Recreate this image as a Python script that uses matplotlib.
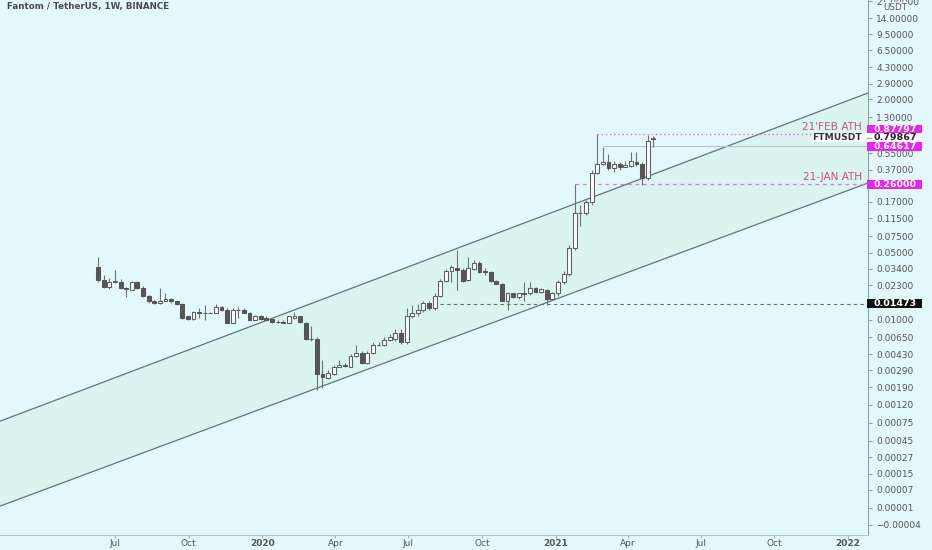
import numpy as np
import pandas as pd
import matplotlib
matplotlib.use("Agg")
import matplotlib.pyplot as plt
import matplotlib.dates as mdates
from matplotlib.patches import Rectangle
from matplotlib.transforms import IdentityTransform
from matplotlib.ticker import NullLocator

# ---------------- data ----------------
title = "Fantom / TetherUS, 1W, BINANCE"
first_week = "2019-06-10"

opens = [0.0360, 0.0263, 0.0222, 0.0250, 0.0250, 0.0217, 0.0207, 0.0250, 0.0217, 0.0179,
         0.0158, 0.0151, 0.0158, 0.0166, 0.0155, 0.0147, 0.0108, 0.0102, 0.0121, 0.0116,
         0.0117, 0.0118, 0.0137, 0.0127, 0.0093, 0.0127, 0.0127, 0.0118, 0.0100, 0.0110,
         0.0105, 0.0102, 0.00953, 0.0095, 0.0093, 0.0105, 0.0108, 0.0093, 0.0063, 0.0063,
         0.00266, 0.00241, 0.00266, 0.00317, 0.00333, 0.00317, 0.00416, 0.00447, 0.0035, 0.00447,
         0.00544, 0.00544, 0.00615, 0.0063, 0.00729, 0.00586, 0.0110, 0.0116, 0.0127, 0.0151,
         0.0131, 0.0179, 0.0257, 0.0327, 0.0351, 0.0335, 0.0263, 0.0343, 0.0396, 0.0327,
         0.0319, 0.0257, 0.0239, 0.0158, 0.0188, 0.0174, 0.0188, 0.0188, 0.0217, 0.0197,
         0.0207, 0.0166, 0.0188, 0.0250, 0.0304, 0.0568, 0.129, 0.132, 0.168, 0.344,
         0.428, 0.449, 0.389, 0.428, 0.398, 0.408, 0.449, 0.428, 0.305, 0.775]
highs = [0.0457, 0.0297, 0.0276, 0.0335, 0.0269, 0.0222, 0.0257, 0.0257, 0.0227, 0.0183,
         0.0162, 0.0217, 0.0192, 0.0170, 0.0158, 0.0151, 0.0110, 0.0124, 0.0134, 0.0144,
         0.0121, 0.0147, 0.0140, 0.0131, 0.0131, 0.0137, 0.0131, 0.0121, 0.0113, 0.0113,
         0.0108, 0.0105, 0.0098, 0.0098, 0.0110, 0.0121, 0.0110, 0.0095, 0.00864, 0.0066,
         0.00377, 0.0029, 0.0033, 0.00377, 0.0035, 0.0043, 0.00544, 0.0046, 0.0046, 0.0058,
         0.0058, 0.0065, 0.0070, 0.0080, 0.0080, 0.0131, 0.0144, 0.0147, 0.0158, 0.0155,
         0.0188, 0.0269, 0.0343, 0.0370, 0.0541, 0.0351, 0.0457, 0.0420, 0.0410, 0.0351,
         0.0327, 0.0263, 0.0245, 0.0197, 0.0192, 0.0192, 0.0250, 0.0250, 0.0222, 0.0217,
         0.0212, 0.0197, 0.0263, 0.0327, 0.0600, 0.2600, 0.160, 0.180, 0.370, 0.87797,
         0.642, 0.543, 0.460, 0.440, 0.450, 0.560, 0.570, 0.440, 0.857, 0.820]
lows = [0.0250, 0.0217, 0.0212, 0.0245, 0.0212, 0.0172, 0.0203, 0.0212, 0.0174, 0.0151,
        0.0147, 0.0147, 0.0155, 0.0151, 0.0144, 0.0102, 0.0100, 0.0100, 0.0105, 0.0098,
        0.0116, 0.0116, 0.0124, 0.0091, 0.0091, 0.0105, 0.0116, 0.0098, 0.0098, 0.0100,
        0.0098, 0.0093, 0.0093, 0.0091, 0.0091, 0.0102, 0.0093, 0.00615, 0.0060, 0.00178,
        0.00187, 0.00235, 0.0026, 0.0031, 0.0031, 0.0031, 0.0040, 0.0034, 0.0034, 0.0043,
        0.0052, 0.0052, 0.0059, 0.0060, 0.0055, 0.0055, 0.0105, 0.0108, 0.0121, 0.0127,
        0.0127, 0.0174, 0.0250, 0.0250, 0.0207, 0.0250, 0.0257, 0.0335, 0.0311, 0.0297,
        0.0250, 0.0234, 0.0155, 0.0127, 0.0170, 0.0166, 0.0158, 0.0183, 0.0192, 0.0188,
        0.0144, 0.0162, 0.0179, 0.0239, 0.0290, 0.0541, 0.0963, 0.125, 0.160, 0.330,
        0.410, 0.370, 0.350, 0.370, 0.390, 0.390, 0.400, 0.258, 0.290, 0.642]
closes = [0.0263, 0.0222, 0.0250, 0.0257, 0.0217, 0.0212, 0.0250, 0.0217, 0.0179, 0.0158,
          0.0151, 0.0158, 0.0166, 0.0155, 0.0147, 0.0105, 0.0102, 0.0121, 0.0116, 0.0118,
          0.0118, 0.0137, 0.0127, 0.0093, 0.0127, 0.0126, 0.0118, 0.0100, 0.0110, 0.0102,
          0.0100, 0.00953, 0.0095, 0.0093, 0.0108, 0.0108, 0.0095, 0.0063, 0.00625, 0.00266,
          0.00247, 0.00273, 0.00317, 0.00333, 0.00325, 0.00416, 0.00447, 0.0035, 0.00447, 0.00544,
          0.0054, 0.00615, 0.00661, 0.00729, 0.00586, 0.0108, 0.0118, 0.0127, 0.0151, 0.0131,
          0.0179, 0.0257, 0.0327, 0.0360, 0.0335, 0.0257, 0.0351, 0.0396, 0.0319, 0.0319,
          0.0257, 0.0239, 0.0158, 0.0192, 0.0174, 0.0188, 0.0187, 0.0217, 0.0197, 0.0212,
          0.0166, 0.0188, 0.0250, 0.0304, 0.0568, 0.129, 0.132, 0.168, 0.344, 0.428,
          0.449, 0.389, 0.428, 0.398, 0.418, 0.460, 0.428, 0.305, 0.743, 0.79867]

ytick_values = [21.0, 14.0, 9.5, 6.5, 4.3, 2.9, 2.0, 1.3, 0.55, 0.37, 0.17, 0.115, 0.075,
                0.05, 0.034, 0.023, 0.01, 0.0065, 0.0043, 0.0029, 0.0019, 0.0012, 0.00075,
                0.00045, 0.00027, 0.00015, 0.00007, 0.00001, -0.000027]
ytick_labels = ["21.00000", "14.00000", "9.50000", "6.50000", "4.30000", "2.90000", "2.00000",
                "1.30000", "0.55000", "0.37000", "0.17000", "0.11500", "0.07500", "0.05000",
                "0.03400", "0.02300", "0.01000", "0.00650", "0.00430", "0.00290", "0.00190",
                "0.00120", "0.00075", "0.00045", "0.00027", "0.00015", "0.00007", "0.00001",
                "\u22120.00004"]

xtick_dates = ["2019-07-01", "2019-10-01", "2020-01-01", "2020-04-01", "2020-07-01",
               "2020-10-01", "2021-01-01", "2021-04-01", "2021-07-01", "2021-10-01", "2022-01-01"]
xtick_labels = ["Jul", "Oct", "2020", "Apr", "Jul", "Oct", "2021", "Apr", "Jul", "Oct", "2022"]
x_range = ["2019-02-07 11:00", "2022-01-26 00:00"]
y_range = [-0.0000427, 21.72]

channel_dates = ["2020-02-04", "2022-01-26"]
channel_upper = [0.01211, 2.328]
channel_lower = [0.001426, 0.2683]

feb_ath = 0.87797
jan_ath = 0.26
last_price = 0.79867
marked_price = 0.64617
support_price = 0.01473
feb_ath_week = 89
jan_ath_week = 85
marked_week = 90
support_week = 61

# ---------------- style ----------------
BG = "#e3f8fc"
FILL = "#daf4ef"
LINE = "#5f767b"
TXT = "#555555"
MAG = "#ee22ee"
PINKTXT = "#c9517e"
W, H = 932, 550
AX_RIGHT = 868
AX_BOTTOM = 15

C = 0.0001
def fwd(p):
    p = np.asarray(p, dtype=float)
    with np.errstate(invalid="ignore", divide="ignore"):
        return np.log10(np.maximum(p + C, 1e-12))
def inv(u):
    return 10 ** np.asarray(u, dtype=float) - C

def dnum(seq):
    return mdates.date2num(pd.to_datetime(list(seq), format="mixed"))

fig = plt.figure(figsize=(W / 100, H / 100), dpi=100, facecolor=BG)
ax = fig.add_axes([0, AX_BOTTOM / H, AX_RIGHT / W, (H - AX_BOTTOM) / H])
ax.set_facecolor(BG)
ax.set_yscale("function", functions=(fwd, inv))

xl = dnum(x_range)
ax.set_xlim(xl[0], xl[1])
ax.set_ylim(y_range[0], y_range[1])

# channel
cx = dnum(channel_dates)
def extend(prices):
    u = fwd(prices)
    slope = (u[1] - u[0]) / (cx[1] - cx[0])
    return inv(u[0] + slope * (xl - cx[0]))
up = extend(channel_upper)
lo = extend(channel_lower)
ax.fill([xl[0], xl[1], xl[1], xl[0]], [lo[0], lo[1], up[1], up[0]],
        color=FILL, lw=0, zorder=1)
ax.plot(xl, up, color=LINE, lw=0.9, zorder=2)
ax.plot(xl, lo, color=LINE, lw=0.9, zorder=2)

# candles
dates = pd.date_range(first_week, periods=len(opens), freq="7D")
x = mdates.date2num(dates)
o = np.array(opens); h = np.array(highs); l = np.array(lows); c = np.array(closes)
ax.vlines(x, l, h, color="#727272", lw=0.8, zorder=3)
bull = c >= o
bottom = np.minimum(o, c)
height = np.abs(c - o)
ax.bar(x[bull], height[bull], bottom=bottom[bull], width=4.8, facecolor="#f6fcfd",
       edgecolor="#5e5e5e", linewidth=0.75, zorder=4)
ax.bar(x[~bull], height[~bull], bottom=bottom[~bull], width=4.8, facecolor="#565656",
       edgecolor="#565656", linewidth=0.75, zorder=4)

# horizontal levels
ax.hlines(support_price, x[support_week], xl[1], color="#6a6a6a", lw=0.8,
          linestyles=(0, (3, 3)), zorder=2)
ax.hlines(jan_ath, x[jan_ath_week], xl[1], color="#e07ad6", lw=0.9,
          linestyles=(0, (3, 3)), zorder=2)
ax.hlines(feb_ath, x[feb_ath_week], xl[1], color="#e06ad8", lw=1.0,
          linestyles=(0, (1, 2)), zorder=2)
ax.hlines(marked_price, x[marked_week], xl[1], color="#b5c4c6", lw=0.8, zorder=2)

ax.annotate("21'FEB ATH", xy=(xl[1], feb_ath), xytext=(-6, 2), textcoords="offset pixels",
            ha="right", va="bottom", fontsize=7.6, color=PINKTXT)
ax.annotate("21-JAN ATH", xy=(xl[1], jan_ath), xytext=(-6, 2), textcoords="offset pixels",
            ha="right", va="bottom", fontsize=7.6, color=PINKTXT)

# axes styling
for s in ["top", "left"]:
    ax.spines[s].set_visible(False)
ax.spines["right"].set_color("#8fa2a6")
ax.spines["bottom"].set_color("#b9c9cc")
ax.yaxis.tick_right()
ax.set_yticks(ytick_values)
ax.set_yticklabels(ytick_labels)
ax.yaxis.set_minor_locator(NullLocator())
ax.tick_params(axis="y", which="major", direction="out", length=3, width=0.8,
               color="#8fa2a6", labelsize=6.5, labelcolor=TXT, pad=3)
ax.set_xticks(dnum(xtick_dates))
ax.set_xticklabels(xtick_labels)
ax.xaxis.set_minor_locator(NullLocator())
ax.tick_params(axis="x", which="major", direction="out", length=2, width=0.8,
               color="#a0b0b3", labelsize=6.5, labelcolor=TXT, pad=1)
for lab, txt in zip(ax.get_xticklabels(), xtick_labels):
    if txt.isdigit():
        lab.set_fontweight("bold")

# boxes on the price axis
def axis_box(price, text, fc, tc, dy=0.0, left=AX_RIGHT - 1, width=55):
    _, yd = ax.transData.transform((xl[0], price))
    yd += dy
    fig.add_artist(Rectangle((left, yd - 4.3), width, 8.6, transform=IdentityTransform(),
                             facecolor=fc, edgecolor="none", clip_on=False, zorder=5))
    fig.text((AX_RIGHT + 27) / W, yd / H, text, ha="center", va="center",
             fontsize=6.8, fontweight="bold", color=tc, zorder=6)
    return yd

axis_box(feb_ath, f"{feb_ath:.5f}", MAG, "white", dy=4)
yd_last = axis_box(last_price, f"{last_price:.5f}", "white", "#222222", left=AX_RIGHT - 56, width=110)
fig.text((AX_RIGHT - 31) / W, yd_last / H, "FTMUSDT", ha="center", va="center",
         fontsize=6.6, fontweight="bold", color="#333333", zorder=6)
fig.add_artist(plt.Line2D([AX_RIGHT - 1, AX_RIGHT + 3], [yd_last, yd_last],
                          transform=IdentityTransform(), color="#8fa2a6", lw=0.8, zorder=7))
axis_box(marked_price, f"{marked_price:.5f}", MAG, "white")
axis_box(jan_ath, f"{jan_ath:.5f}", MAG, "white")
axis_box(support_price, f"{support_price:.5f}", "#111111", "white")

# header texts
fig.text(7 / W, 1 - 7 / H, title, ha="left", va="center", fontsize=6.3,
         fontweight="bold", color="#4a4a4a")
fig.text((AX_RIGHT + 27) / W, 1 - 7.5 / H, "USDT", ha="center", va="center", fontsize=6.3,
         color=TXT, bbox=dict(boxstyle="square,pad=0.15", fc="#eaf9fc", ec="none"))

fig.savefig("out.png", dpi=100, facecolor=BG)
